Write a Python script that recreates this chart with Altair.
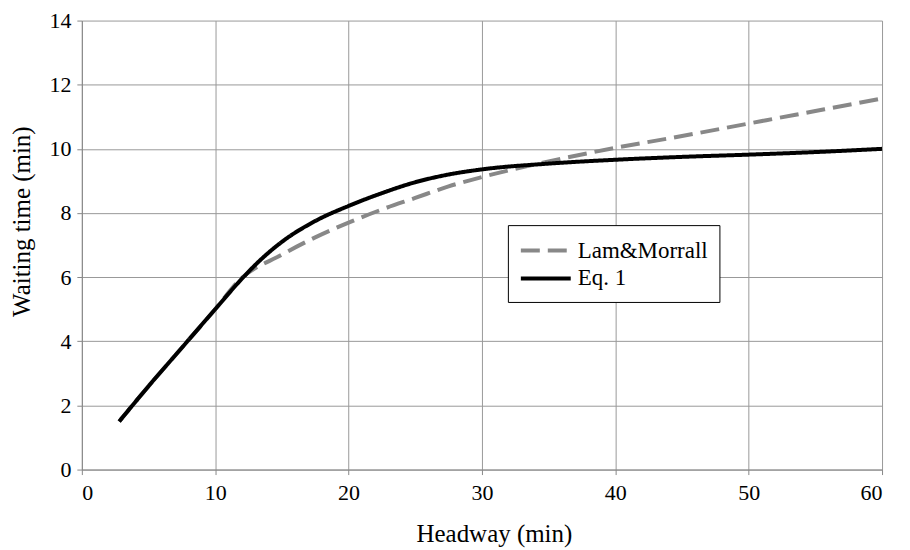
import altair as alt
import pandas as pd

# Eq. 1 (solid black)
eq1_x = [2.8, 5, 7.5, 10, 12, 13.3, 15, 17.5, 20, 22.5, 25, 27.5, 30, 35, 40, 45, 50, 55, 60]
eq1_y = [1.5, 2.6, 3.8, 5.0, 5.95, 6.5, 7.1, 7.75, 8.22, 8.62, 8.96, 9.2, 9.36, 9.54, 9.66, 9.75, 9.82, 9.9, 10.0]

# Lam&Morrall (dashed grey)
lam_x = [2.8, 5, 7.5, 10, 11.8, 15, 17.5, 20, 22.5, 25, 27.5, 30, 35, 40, 45, 50, 55, 60]
lam_y = [1.5, 2.6, 3.8, 5.0, 5.9, 6.7, 7.24, 7.7, 8.11, 8.47, 8.83, 9.12, 9.61, 10.03, 10.4, 10.79, 11.18, 11.57]

series = ["Lam&Morrall", "Eq. 1"]
x_ticks = [0, 10, 20, 30, 40, 50, 60]
y_ticks = [0, 2, 4, 6, 8, 10, 12, 14]

df = pd.concat([
    pd.DataFrame({"x": lam_x, "y": lam_y, "s": series[0]}),
    pd.DataFrame({"x": eq1_x, "y": eq1_y, "s": series[1]}),
])

FONT = "Liberation Serif, Times New Roman, serif"

color = alt.Color("s:N", scale=alt.Scale(domain=series, range=["#888888", "#000000"]),
                  legend=alt.Legend(title=None, orient="none", legendX=427, legendY=205,
                                    fillColor="white", strokeColor="#000000", padding=11,
                                    symbolType="M-1,0H3", symbolSize=625, symbolStrokeWidth=4,
                                    labelFont=FONT, labelFontSize=23, labelColor="black",
                                    labelOffset=30, rowPadding=1, cornerRadius=0))
dash = alt.StrokeDash("s:N", scale=alt.Scale(domain=series, range=[[19, 8], [1, 0]]), legend=None)

x = alt.X("x:Q", scale=alt.Scale(domain=[0, 60], nice=False),
          axis=alt.Axis(values=x_ticks, title="Headway (min)", titlePadding=18, titleX=413))
y = alt.Y("y:Q", scale=alt.Scale(domain=[0, 14], nice=False),
          axis=alt.Axis(values=y_ticks, title="Waiting time (min)", titlePadding=14, titleY=201))

base = alt.Chart(df).mark_line(strokeWidth=4, strokeCap="butt", interpolate="monotone").encode(
    x=x, y=y, color=color, strokeDash=dash)

lam = base.transform_filter(alt.datum.s == series[0])
eq = base.transform_filter(alt.datum.s == series[1])

chart = alt.layer(lam, eq).properties(
    width=802, height=450,
    autosize=alt.AutoSizeParams(type="none"),
    padding={"left": 74, "top": 12, "right": 20, "bottom": 78},
).configure(font=FONT).configure_view(stroke=None).configure_axis(
    grid=True, gridColor="#999999", gridWidth=1,
    domainColor="#888888", domainWidth=1,
    tickColor="#888888", tickSize=5,
    labelFont=FONT, labelFontSize=22, labelColor="black", labelPadding=6,
    titleFont=FONT, titleFontSize=25, titleColor="black", titleFontWeight="normal",
).configure_axisX(labelPadding=8).configure_legend(labelFont=FONT)

chart.save("out.html", embed_options={"renderer": "svg", "actions": False})
